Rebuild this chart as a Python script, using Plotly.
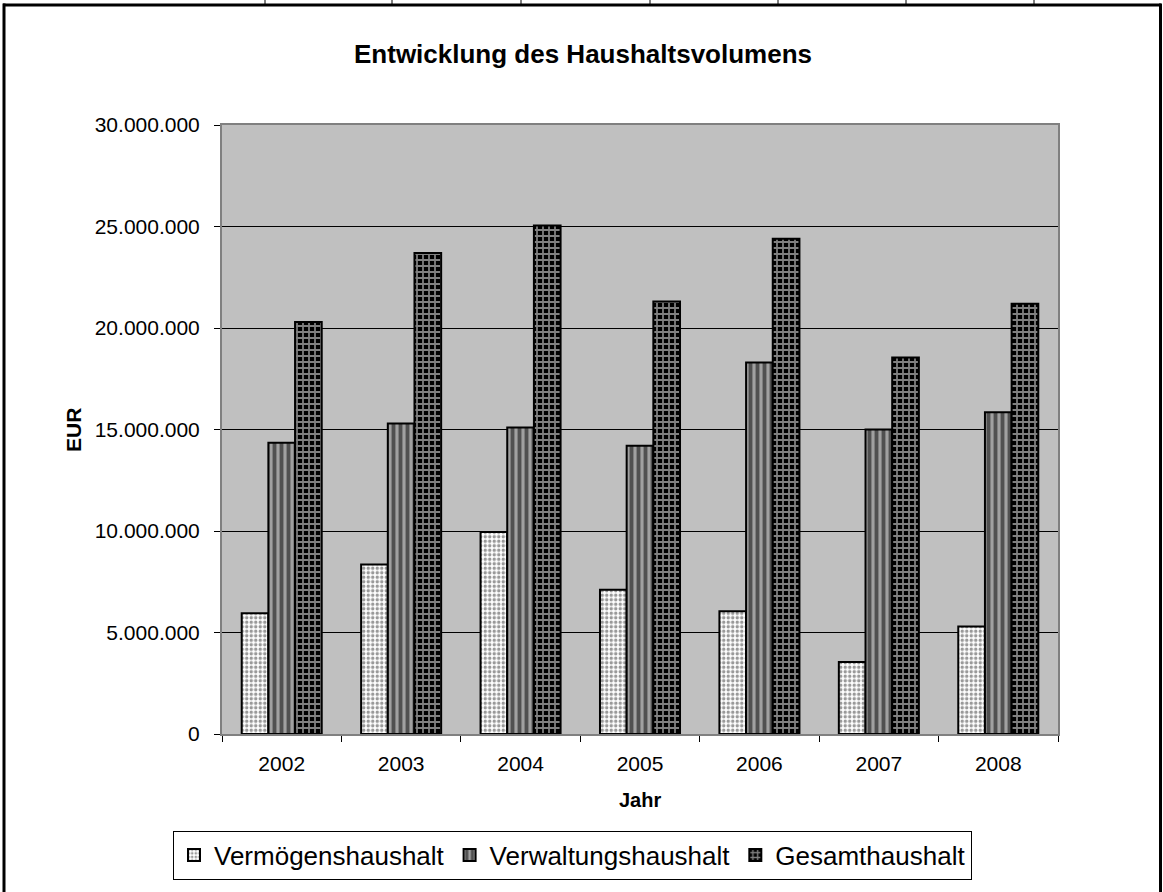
import plotly.graph_objects as go

years = ["2002", "2003", "2004", "2005", "2006", "2007", "2008"]
vermoegen = [5950000, 8350000, 9950000, 7100000, 6050000, 3550000, 5300000]
verwaltung = [14350000, 15300000, 15100000, 14200000, 18300000, 15000000, 15850000]
gesamt = [20300000, 23700000, 25050000, 21300000, 24400000, 18550000, 21200000]

W, H = 1163, 892
L, R, T, B = 222, 1058, 125, 736
FONT = "Liberation Sans, Arial, sans-serif"

def px(x):
    return (x - L) / (R - L)

def py(y):
    return (B - y) / (B - T)

fig = go.Figure()
fig.add_trace(go.Bar(
    x=years, y=vermoegen, name="Vermögenshaushalt",
    marker=dict(color="white", line=dict(color="black", width=2),
                pattern=dict(shape=".", fgcolor="#333333", size=4.5, solidity=0.45)),
))
fig.add_trace(go.Bar(
    x=years, y=verwaltung, name="Verwaltungshaushalt",
    marker=dict(color="#a0a0a0", line=dict(color="black", width=2),
                pattern=dict(shape="|", fgcolor="black", size=7, solidity=0.55)),
))
fig.add_trace(go.Bar(
    x=years, y=gesamt, name="Gesamthaushalt",
    marker=dict(color="black", line=dict(color="black", width=2),
                pattern=dict(shape="+", fgcolor="white", size=6, solidity=0.5)),
))

shapes = []
# outer frame (spreadsheet border)
shapes.append(dict(type="line", xref="paper", yref="paper", x0=px(3), x1=px(1161), y0=py(4.5), y1=py(4.5),
                   line=dict(color="black", width=3)))
shapes.append(dict(type="line", xref="paper", yref="paper", x0=px(4), x1=px(4), y0=py(3), y1=py(900),
                   line=dict(color="black", width=3)))
shapes.append(dict(type="line", xref="paper", yref="paper", x0=px(1160.5), x1=px(1160.5), y0=py(3), y1=py(900),
                   line=dict(color="black", width=3)))
for cx in [265, 392, 521, 650, 778, 906, 1034]:
    shapes.append(dict(type="line", xref="paper", yref="paper", x0=px(cx), x1=px(cx), y0=py(-2), y1=py(4),
                       line=dict(color="black", width=1)))

fig.update_layout(
    width=W, height=H,
    margin=dict(l=L, r=W - R, t=T, b=H - B, pad=0),
    paper_bgcolor="white",
    plot_bgcolor="#c0c0c0",
    font=dict(family=FONT, size=21, color="black"),
    separators=",.",
    barmode="group",
    bargap=0.33,
    bargroupgap=0,
    title=dict(text="<b>Entwicklung des Haushaltsvolumens</b>", x=583 / W, xanchor="center",
               y=1 - 54 / H, yanchor="middle", font=dict(size=26, family=FONT)),
    xaxis=dict(type="category", showline=True, linecolor="#808080", linewidth=2, mirror=True,
               ticks="outside", tickson="boundaries", ticklen=6, tickcolor="black", tickwidth=1,
               showgrid=False, tickfont=dict(size=21), ticklabelstandoff=10),
    yaxis=dict(range=[0, 30000000], dtick=5000000, tickformat=",d", showline=True, linecolor="#808080",
               linewidth=2, mirror=True, ticks="outside", ticklen=6, tickcolor="black", tickwidth=1,
               showgrid=True, gridcolor="black", gridwidth=1, zeroline=False,
               tickfont=dict(size=21), ticklabelstandoff=10),
    legend=dict(orientation="h", x=px(572.5), xanchor="center", y=py(833), yanchor="top",
                bordercolor="black", borderwidth=1, font=dict(size=26, family=FONT),
                itemwidth=30, bgcolor="white", traceorder="normal"),
    annotations=[
        dict(text="<b>EUR</b>", xref="paper", yref="paper", x=px(74), y=py(431), showarrow=False,
             textangle=-90, xanchor="center", yanchor="middle", font=dict(size=21, family=FONT)),
        dict(text="<b>Jahr</b>", xref="paper", yref="paper", x=px(640), y=py(802), showarrow=False,
             xanchor="center", yanchor="middle", font=dict(size=20, family=FONT)),
    ],
    shapes=shapes,
)

fig.write_html("out.html", config={"displayModeBar": False},
               post_script="document.body.style.margin='0';")
